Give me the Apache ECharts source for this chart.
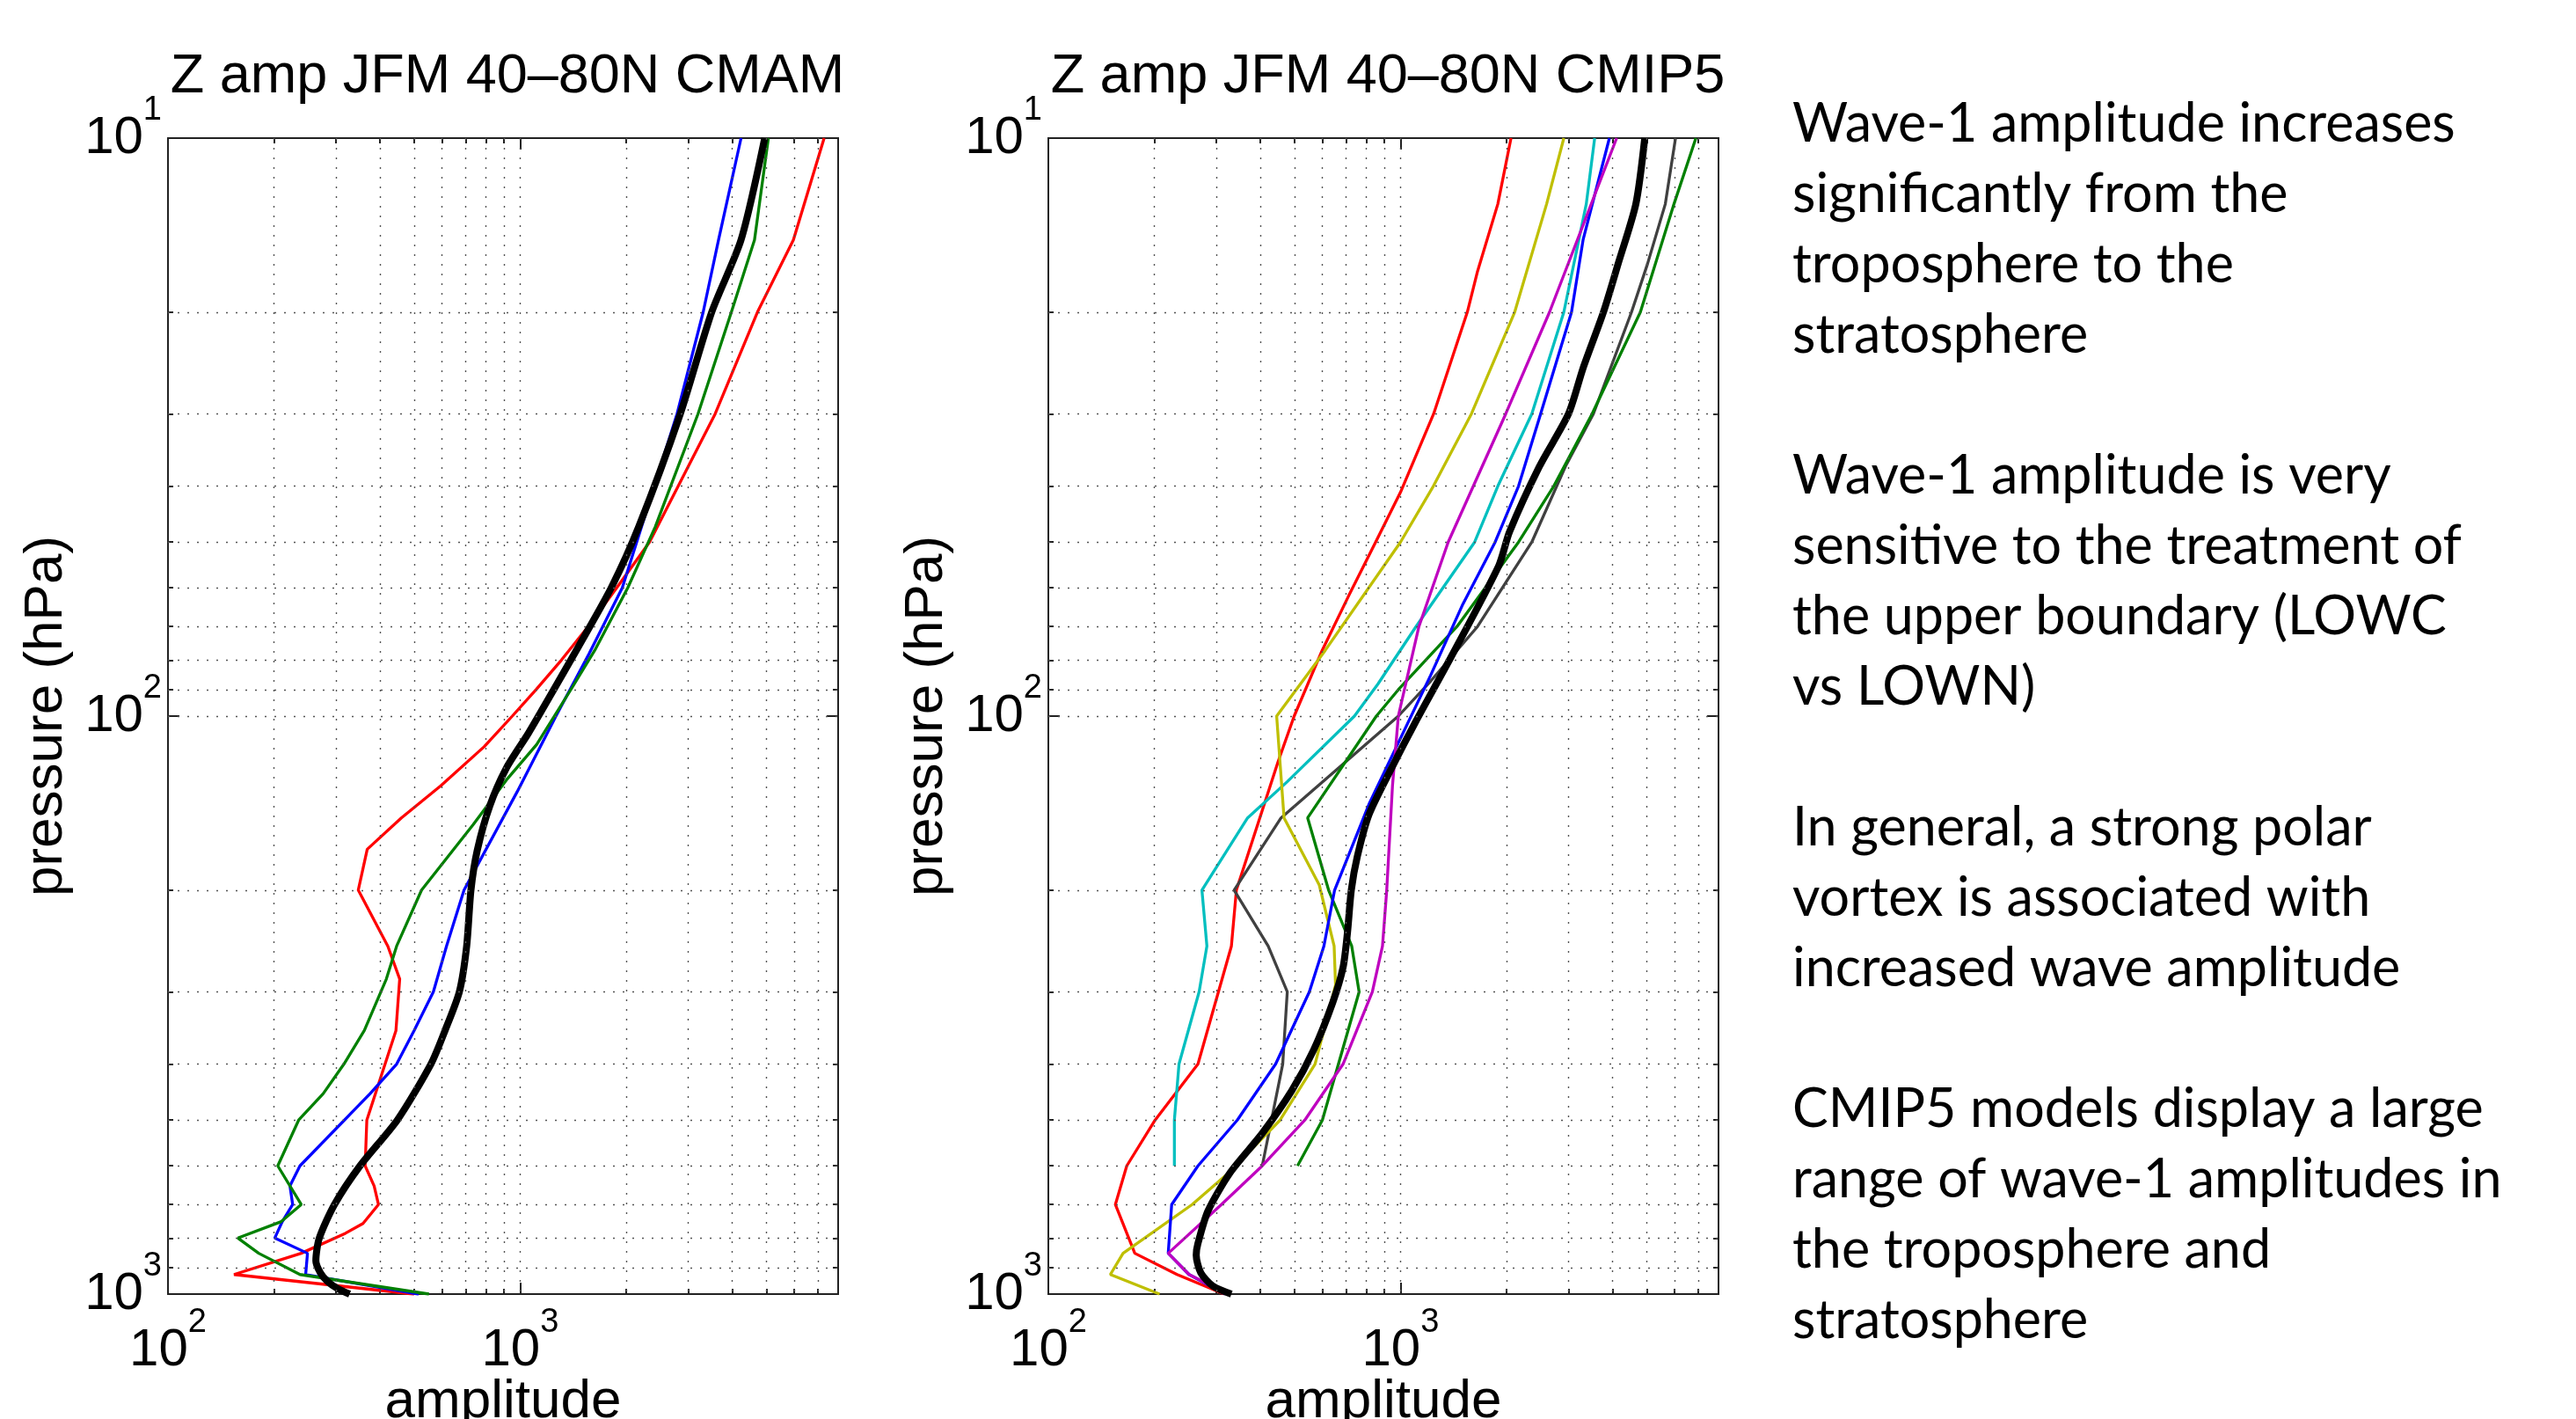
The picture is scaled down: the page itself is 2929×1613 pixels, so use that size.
<!DOCTYPE html>
<html>
<head>
<meta charset="utf-8">
<title>Z amp JFM 40-80N</title>
<script src="https://cdn.jsdelivr.net/npm/echarts@6.0.0/dist/echarts.min.js"></script>
<style>
html, body { margin: 0; padding: 0; background: #fff; }
#main { width: 2929px; height: 1613px; }
</style>
</head>
<body>
<div id="main"></div>
<script>
// ////////////////////////////// tick values
var xMajor = [100, 1000];
var xMinor = [200, 300, 400, 500, 600, 700, 800, 900, 2000, 3000, 4000, 5000, 6000, 7000];
var yMajor = [10, 100, 1000];
var yMinor = [20, 30, 40, 50, 60, 70, 80, 90, 200, 300, 400, 500, 600, 700, 800, 900];

// ////////////////////////////// CMAM profiles: pressure (hPa) / amplitude
var cmamRedP = [10, 15, 20, 30, 50, 60, 70, 80, 90, 100, 113, 132, 150, 170, 200, 250, 285, 350, 500, 600, 650, 700, 755, 785, 850, 925, 1000];
var cmamRedA = [7300, 5970, 4720, 3580, 2330, 1880, 1560, 1310, 1110, 950, 790, 595, 460, 368, 347, 421, 455, 444, 367, 363, 385, 396, 358, 319, 239, 154, 500];
var cmamBlueP = [10, 15, 20, 30, 47, 60, 78, 100, 135, 200, 250, 300, 350, 400, 450, 600, 650, 700, 750, 800, 850, 925, 1000];
var cmamBlueA = [4240, 3660, 3310, 2790, 2213, 1950, 1570, 1264, 982, 693, 618, 567, 500, 446, 375, 237, 222, 226, 211, 201, 249, 246, 515];
var cmamGreenP = [10, 15, 20, 30, 47, 60, 77, 89, 112, 129, 154, 200, 250, 285, 350, 400, 450, 500, 600, 700, 750, 800, 850, 925, 1000];
var cmamGreenA = [5070, 4630, 3980, 3200, 2421, 2021, 1628, 1409, 1114, 914, 736, 525, 446, 417, 361, 316, 276, 235, 205, 239, 209, 158, 181, 237, 551];
var cmamMeanP = [10, 15, 20, 30, 47, 60, 76, 92, 107, 123, 143, 171, 200, 250, 300, 350, 400, 500, 600, 700, 800, 876, 919, 951, 979, 1000];
var cmamMeanA = [4950, 4240, 3500, 2850, 2173, 1814, 1461, 1220, 1056, 914, 820, 755, 725, 705, 672, 612, 558, 448, 351, 297, 269, 263, 271, 284, 304, 328];

// ////////////////////////////// CMIP5 profiles
var cmipRedP = [10, 13, 17, 20, 30, 41, 50, 62, 77, 100, 120, 200, 250, 400, 500, 600, 700, 850, 925, 1000];
var cmipRedA = [2060, 1890, 1655, 1548, 1242, 1000, 850, 712, 599, 499, 449, 342, 331, 266, 201, 167, 155, 176, 232, 316];
var cmipCyanP = [10, 13, 20, 30, 40, 50, 70, 88, 100, 130, 150, 200, 250, 300, 400, 500, 600];
var cmipCyanA = [3560, 3370, 2910, 2360, 1890, 1624, 1107, 863, 740, 476, 368, 273, 282, 268, 235, 228, 228];
var cmipGrayP = [10, 13, 16.5, 20, 30, 37, 50, 70, 87, 100, 150, 200, 250, 300, 400, 600];
var cmipGrayA = [6040, 5650, 5030, 4530, 3530, 2940, 2360, 1655, 1218, 986, 458, 337, 421, 477, 463, 405];
var cmipGreenP = [10, 13, 20, 30, 40, 50, 70, 90, 100, 150, 200, 250, 300, 500, 600];
var cmipGreenA = [6900, 5980, 4800, 3500, 2725, 2164, 1447, 986, 854, 545, 625, 727, 763, 600, 510];
var cmipYellowP = [10, 13, 20, 30, 40, 50, 77, 100, 150, 196, 250, 292, 400, 500, 617, 700, 850, 925, 1000];
var cmipYellowA = [2910, 2600, 2110, 1590, 1240, 1000, 611, 445, 467, 588, 648, 654, 572, 455, 325, 256, 163, 150, 207];
var cmipMagentaP = [10, 20, 30, 50, 70, 100, 132, 200, 250, 300, 400, 500, 600, 700, 850, 925, 1000];
var cmipMagentaA = [4110, 2650, 1990, 1366, 1128, 986, 949, 914, 889, 832, 687, 535, 405, 310, 219, 251, 322];
var cmipBlueP = [10, 15, 20, 30, 40, 50, 64, 85, 142, 200, 250, 300, 400, 500, 600, 700, 850, 925, 1000];
var cmipBlueA = [3920, 3300, 3060, 2500, 2164, 1857, 1504, 1218, 814, 650, 606, 551, 442, 344, 266, 224, 219, 251, 318];
var cmipMeanP = [10, 13, 16.5, 20, 25, 30, 37, 48, 55, 79, 102, 125, 148, 175, 200, 237, 272, 313, 378, 445, 527, 617, 718, 817, 856, 919, 968, 1000];
var cmipMeanA = [4940, 4660, 4150, 3770, 3300, 3000, 2480, 2040, 1900, 1393, 1107, 931, 814, 754, 725, 707, 687, 642, 567, 491, 405, 328, 284, 266, 263, 271, 293, 331];

// ////////////////////////////// texts
var titles = ['Z amp JFM 40\u201380N CMAM', 'Z amp JFM 40\u201380N CMIP5'];
var notes = [
	'Wave-1 amplitude increases',
	'significantly from the',
	'troposphere to the',
	'stratosphere',
	'',
	'Wave-1 amplitude is very',
	'sensitive to the treatment of',
	'the upper boundary (LOWC',
	'vs LOWN)',
	'',
	'In general, a strong polar',
	'vortex is associated with',
	'increased wave amplitude',
	'',
	'CMIP5 models display a large',
	'range of wave-1 amplitudes in',
	'the troposphere and',
	'stratosphere'
];

var SANS = '"Liberation Sans", Arial, sans-serif';
var AX = '#222';
var gridLefts = [191, 1192];

function prof(p, a) {
	var out = [];
	for (var i = 0; i < p.length; i++) {
		out.push([a[i], p[i]]);
	}
	return out;
}

function powLabel(v) {
	var e = Math.round(Math.log(v) / Math.LN10);
	return '{b|10}{s|' + e + '}';
}

var RICH = {
	b: { fontFamily: SANS, fontSize: 60, lineHeight: 100, color: '#000' },
	s: { fontFamily: SANS, fontSize: 38, lineHeight: 36, verticalAlign: 'top', color: '#000' }
};

function tickAxis(base, pos, vals, len) {
	return Object.assign({}, base, {
		position: pos,
		axisLine: { show: true, lineStyle: { color: AX, width: 2 } },
		axisTick: { show: true, inside: true, length: len, customValues: vals, lineStyle: { color: AX, width: 2 } },
		axisLabel: { show: false },
		splitLine: { show: false }
	});
}

function makeX(g) {
	var base = { type: 'log', logBase: 10, min: 100, max: 8000, gridIndex: g };
	var main = tickAxis(base, 'bottom', xMajor, 13);
	main.name = 'amplitude';
	main.nameLocation = 'middle';
	main.nameGap = 92;
	main.nameMoveOverlap = false;
	main.nameTextStyle = { fontFamily: SANS, fontSize: 62, color: '#000' };
	main.axisLabel = { show: true, customValues: xMajor, margin: 14, formatter: powLabel, rich: RICH };
	return [main, tickAxis(base, 'top', xMajor, 13), tickAxis(base, 'bottom', xMinor, 6), tickAxis(base, 'top', xMinor, 6)];
}

function makeY(g) {
	var base = { type: 'log', logBase: 10, min: 10, max: 1000, inverse: true, gridIndex: g };
	var main = tickAxis(base, 'left', yMajor, 13);
	main.name = 'pressure (hPa)';
	main.nameLocation = 'middle';
	main.nameGap = 107;
	main.nameMoveOverlap = false;
	main.nameTextStyle = { fontFamily: SANS, fontSize: 62, color: '#000' };
	main.axisLabel = { show: true, customValues: yMajor, margin: 7, formatter: powLabel, rich: RICH };
	return [main, tickAxis(base, 'right', yMajor, 13), tickAxis(base, 'left', yMinor, 6), tickAxis(base, 'right', yMinor, 6)];
}

function gridLines(g) {
	var lines = [];
	xMinor.concat([1000]).forEach(function(v) { lines.push({ xAxis: v }); });
	yMinor.concat([100]).forEach(function(v) { lines.push({ yAxis: v }); });
	return {
		type: 'line', xAxisIndex: g * 4, yAxisIndex: g * 4, z: 1,
		data: [[100, 10]], symbol: 'none', lineStyle: { opacity: 0 }, silent: true,
		markLine: {
			silent: true, symbol: ['none', 'none'], label: { show: false }, animation: false,
			lineStyle: { color: '#555', width: 1.4, type: [2, 9] },
			emphasis: { disabled: true },
			data: lines
		}
	};
}

function line(g, p, a, color, width) {
	return {
		type: 'line', xAxisIndex: g * 4, yAxisIndex: g * 4,
		data: prof(p, a), symbol: 'none', smooth: width > 5 ? 0.25 : false,
		z: width > 5 ? 4 : 3, silent: true,
		lineStyle: { color: color, width: width }
	};
}

var xAxes = makeX(0).concat(makeX(1));
var yAxes = makeY(0).concat(makeY(1));

var grids = gridLefts.map(function(l) {
	return { left: l, top: 157, width: 762, height: 1314, containLabel: false, outerBoundsMode: 'none' };
});

var series = [
	gridLines(0), gridLines(1),
	line(0, cmamRedP, cmamRedA, '#ff0000', 3.3),
	line(0, cmamBlueP, cmamBlueA, '#0000ff', 3.3),
	line(0, cmamGreenP, cmamGreenA, '#008000', 3.3),
	line(0, cmamMeanP, cmamMeanA, '#000000', 8),
	line(1, cmipRedP, cmipRedA, '#ff0000', 3.3),
	line(1, cmipCyanP, cmipCyanA, '#00bfbf', 3.3),
	line(1, cmipGrayP, cmipGrayA, '#404040', 3.3),
	line(1, cmipGreenP, cmipGreenA, '#008000', 3.3),
	line(1, cmipYellowP, cmipYellowA, '#bfbf00', 3.3),
	line(1, cmipBlueP, cmipBlueA, '#0000ff', 3.3),
	line(1, cmipMagentaP, cmipMagentaA, '#bf00bf', 3.3),
	line(1, cmipMeanP, cmipMeanA, '#000000', 8)
];

var option = {
	backgroundColor: '#ffffff',
	animation: false,
	title: titles.map(function(t, i) {
		return {
			text: t, left: gridLefts[i] + 381, top: 51, textAlign: 'center',
			textStyle: { fontFamily: SANS, fontSize: 63, fontWeight: 'normal', color: '#000' }
		};
	}),
	grid: grids,
	xAxis: xAxes,
	yAxis: yAxes,
	series: series,
	graphic: [{
		type: 'text', x: 2038, y: 101, silent: true,
		style: {
			text: notes.join('\n'), fill: '#000', fontFamily: 'Lato, "Open Sans", sans-serif',
			fontSize: 61, lineHeight: 80, align: 'left', verticalAlign: 'top'
		}
	}]
};

var myChart = echarts.init(document.getElementById('main'), null, { renderer: 'canvas' });
myChart.setOption(option);
</script>
</body>
</html>
